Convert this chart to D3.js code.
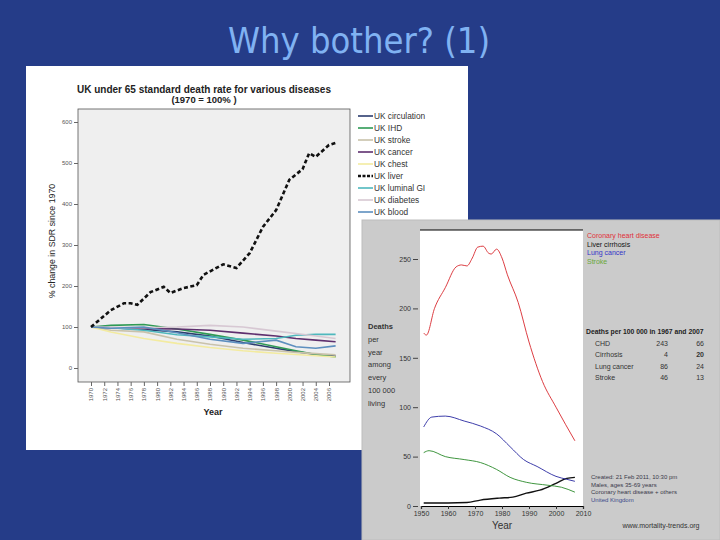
<!DOCTYPE html>
<meta charset="utf-8">
<style>
body { margin: 0; background: #253c88; }
svg { display: block; font-family: "Liberation Sans", Arial, sans-serif; }
</style>
<svg width="720" height="540"></svg>
<script src="https://d3js.org/d3.v7.min.js"></script>
<script>

// left chart: UK under 65 SDR, 1970 = 100
var ukYears = [1970, 1973, 1978, 1983, 1988, 1993, 1998, 2001, 2004, 2007];
var ukSeries = [
  {name: "UK circulation", color: "#2c3d6e", values: [100, 98, 94, 88, 78, 62, 48, 40, 33, 29]},
  {name: "UK IHD",         color: "#2f9a55", values: [100, 104, 106, 95, 82, 68, 52, 42, 33, 27]},
  {name: "UK stroke",      color: "#c9c2ab", values: [100, 92, 88, 70, 58, 48, 42, 38, 35, 32]},
  {name: "UK cancer",      color: "#5e2f6e", values: [100, 98, 96, 95, 92, 85, 78, 72, 68, 64]},
  {name: "UK chest",       color: "#f3eba0", values: [100, 88, 72, 60, 50, 42, 36, 33, 30, 27]},
  {name: "UK liver",       color: "#111111", values: null},
  {name: "UK luminal GI",  color: "#4fb8bd", values: [100, 98, 92, 81, 76, 70, 72, 80, 82, 82]},
  {name: "UK diabetes",    color: "#d7c8d3", values: [100, 99, 98, 100, 104, 100, 90, 84, 78, 72]},
  {name: "UK blood",       color: "#5d8fbf", values: [100, 97, 100, 86, 70, 60, 68, 52, 48, 54]}
];
var liverYears  = [1970, 1973, 1975, 1976, 1977, 1979, 1981, 1982, 1984, 1986, 1987, 1990, 1992, 1994, 1996, 1998, 2000, 2002, 2003, 2004, 2006, 2007];
var liverValues = [100, 141, 158, 158, 154, 185, 198, 183, 195, 202, 227, 253, 244, 280, 344, 385, 459, 485, 524, 515, 544, 549];
var ukTicksX = d3.range(1970, 2007, 2);
var ukTicksY = [0, 100, 200, 300, 400, 500, 600];

// right chart: deaths per 100 000, UK males 35-69
var mtSeries = [
  {name: "Coronary heart disease", color: "#d8282e", label: "#e0303a",
   years: [1951, 1952, 1955, 1959, 1963, 1965, 1967, 1969, 1971, 1973, 1975, 1976, 1978, 1980, 1982, 1986, 1990, 1995, 2000, 2007],
   values: [175, 173, 200, 221, 242, 244, 243, 251, 262, 263, 256, 255, 260, 251, 234, 206, 166, 126, 100, 66]},
  {name: "Liver cirrhosis", color: "#111111", label: "#111111",
   years: [1951, 1960, 1967, 1972, 1979, 1984, 1989, 1994, 2000, 2004, 2007],
   values: [3, 3, 3.5, 6, 8, 9, 13, 16, 23, 28, 29]},
  {name: "Lung cancer", color: "#2828a0", label: "#3434c8",
   years: [1951, 1954, 1959, 1966, 1972, 1978, 1983, 1988, 1993, 2000, 2004, 2007],
   values: [80, 90, 91, 86, 81, 73, 60, 47, 40, 30, 27, 25]},
  {name: "Stroke", color: "#2a8a2a", label: "#6aa83a",
   years: [1951, 1953, 1959, 1966, 1972, 1978, 1983, 1989, 1997, 2002, 2007],
   values: [54, 56, 50, 47, 44, 37, 29, 24, 21, 19, 14]}
];
var tableRows = [["CHD", "243", "66"], ["Cirrhosis", "4", "20"], ["Lung cancer", "86", "24"], ["Stroke", "46", "13"]];
var notes = ["Created: 21 Feb 2011, 10:30 pm", "Males, ages 35-69 years", "Coronary heart disease + others", "United Kingdom"];
var yLabelLines = ["Deaths", "per", "year", "among", "every", "100 000", "living"];

var svg = d3.select("svg");

svg.append("text").attr("x", 359).attr("y", 53).attr("text-anchor", "middle")
  .attr("font-family", "'DejaVu Sans Condensed', 'DejaVu Sans', sans-serif")
  .attr("font-size", 36).attr("fill", "#80b2f2").text("Why bother? (1)");

// ---- left panel
svg.append("rect").attr("x", 26).attr("y", 66).attr("width", 442).attr("height", 384).attr("fill", "#fff");

var x1 = d3.scaleLinear().domain([1970, 2006]).range([91, 329]);
var y1 = d3.scaleLinear().domain([0, 600]).range([368, 122]);

svg.append("rect").attr("x", 78).attr("y", 109).attr("width", 272).attr("height", 273)
  .attr("fill", "#efefef").attr("stroke", "#555").attr("stroke-width", 0.8);

svg.append("text").attr("x", 204).attr("y", 93).attr("text-anchor", "middle")
  .attr("font-size", 10).attr("font-weight", "bold").attr("fill", "#222")
  .text("UK under 65 standard death rate for various diseases");
svg.append("text").attr("x", 204).attr("y", 103).attr("text-anchor", "middle")
  .attr("font-size", 9.5).attr("font-weight", "bold").attr("fill", "#222").text("(1970 = 100% )");

var ax1 = svg.append("g").attr("transform", "translate(78,0)")
  .call(d3.axisLeft(y1).tickValues(ukTicksY).tickSize(4).tickPadding(2));
ax1.select(".domain").remove();
ax1.selectAll("line").attr("stroke", "#666");
ax1.selectAll("text").attr("font-size", 6).attr("fill", "#555");

var ax1x = svg.append("g").attr("transform", "translate(0,382)")
  .call(d3.axisBottom(x1).tickValues(ukTicksX).tickFormat(d3.format("d")).tickSize(4));
ax1x.select(".domain").remove();
ax1x.selectAll("line").attr("stroke", "#666");
ax1x.selectAll("text").attr("font-size", 6).attr("fill", "#555")
  .attr("text-anchor", "end").attr("dy", "0.32em")
  .attr("transform", "translate(0,6) rotate(-90)").attr("x", 0).attr("y", 0);

svg.append("text").attr("transform", "translate(55,241) rotate(-90)").attr("text-anchor", "middle")
  .attr("font-size", 8.8).attr("fill", "#222").text("% change in SDR since 1970");
svg.append("text").attr("x", 213).attr("y", 415).attr("text-anchor", "middle")
  .attr("font-size", 9).attr("font-weight", "bold").attr("fill", "#222").text("Year");

var line1 = d3.line().x(d => x1(d[0])).y(d => y1(d[1]));
ukSeries.forEach(function (s) {
  if (!s.values) return;
  svg.append("path").datum(d3.zip(ukYears, s.values)).attr("d", line1)
    .attr("fill", "none").attr("stroke", s.color).attr("stroke-width", 1.6);
});
svg.append("path").datum(d3.zip(liverYears, liverValues)).attr("d", line1)
  .attr("fill", "none").attr("stroke", "#111").attr("stroke-width", 2.6).attr("stroke-dasharray", "4,2.5");

var leg1 = svg.append("g");
ukSeries.forEach(function (s, i) {
  var yy = 116 + i * 12;
  leg1.append("line").attr("x1", 358).attr("x2", 373).attr("y1", yy).attr("y2", yy)
    .attr("stroke", s.color).attr("stroke-width", s.values ? 1.6 : 2.4)
    .attr("stroke-dasharray", s.values ? null : "3,1.5");
  leg1.append("text").attr("x", 374).attr("y", yy + 3).attr("font-size", 8.3).attr("fill", "#333").text(s.name);
});

// ---- right panel
svg.append("rect").attr("x", 362).attr("y", 220).attr("width", 358).attr("height", 320)
  .attr("fill", "#cbcbcb").attr("stroke", "#bdbdbd");

var x2 = d3.scaleLinear().domain([1950, 2010]).range([421, 583]);
var y2 = d3.scaleLinear().domain([0, 250]).range([506, 259]);

svg.append("rect").attr("x", 420).attr("y", 230).attr("width", 163).attr("height", 276).attr("fill", "#fff");
svg.append("line").attr("x1", 420).attr("x2", 583).attr("y1", 230).attr("y2", 230).attr("stroke", "#000").attr("stroke-width", 1.2);

var ax2 = svg.append("g").attr("transform", "translate(418,0)")
  .call(d3.axisLeft(y2).tickValues([0, 50, 100, 150, 200, 250]).tickSize(5).tickPadding(2));
ax2.select(".domain").remove();
ax2.selectAll("line").attr("stroke", "#444");
ax2.selectAll("text").attr("font-size", 7).attr("fill", "#333");

var ax2x = svg.append("g").attr("transform", "translate(0,506)")
  .call(d3.axisBottom(x2).tickValues(d3.range(1950, 2011, 10)).tickFormat(d3.format("d")).tickSize(3).tickPadding(2));
ax2x.select(".domain").attr("stroke", "#000").attr("stroke-width", 1.2);
ax2x.selectAll("line").attr("stroke", "#333");
ax2x.selectAll("text").attr("font-size", 7).attr("fill", "#333");

svg.append("text").attr("x", 502).attr("y", 529).attr("text-anchor", "middle")
  .attr("font-size", 10).attr("fill", "#333").text("Year");

yLabelLines.forEach(function (t, i) {
  svg.append("text").attr("x", 368).attr("y", 329 + i * 12.8).attr("font-size", 7.5)
    .attr("font-weight", i === 0 ? "bold" : "normal").attr("fill", "#333").text(t);
});

var line2 = d3.line().x(d => x2(d[0])).y(d => y2(d[1])).curve(d3.curveMonotoneX);
mtSeries.forEach(function (s, i) {
  svg.append("path").datum(d3.zip(s.years, s.values)).attr("d", line2)
    .attr("fill", "none").attr("stroke", s.color).attr("stroke-width", i === 1 ? 1.4 : 0.9);
  svg.append("text").attr("x", 587).attr("y", 238 + i * 8.5).attr("font-size", 7)
    .attr("fill", s.label).text(s.name);
});

svg.append("text").attr("x", 586).attr("y", 334).attr("font-size", 6.8).attr("font-weight", "bold")
  .attr("fill", "#222").text("Deaths per 100 000 in 1967 and 2007");
tableRows.forEach(function (r, i) {
  var yy = 346 + i * 11.3;
  svg.append("text").attr("x", 595).attr("y", yy).attr("font-size", 7).attr("fill", "#333").text(r[0]);
  svg.append("text").attr("x", 668).attr("y", yy).attr("font-size", 7).attr("text-anchor", "end").attr("fill", "#333").text(r[1]);
  svg.append("text").attr("x", 704).attr("y", yy).attr("font-size", 7).attr("text-anchor", "end")
    .attr("font-weight", i === 1 ? "bold" : "normal").attr("fill", "#333").text(r[2]);
});

notes.forEach(function (t, i) {
  svg.append("text").attr("x", 591).attr("y", 479 + i * 7.6).attr("font-size", 6)
    .attr("fill", i === 3 ? "#3a4a8a" : "#3a3a4a").text(t);
});
svg.append("text").attr("x", 661).attr("y", 528).attr("text-anchor", "middle").attr("font-size", 7)
  .attr("fill", "#333").text("www.mortality-trends.org");

</script>
